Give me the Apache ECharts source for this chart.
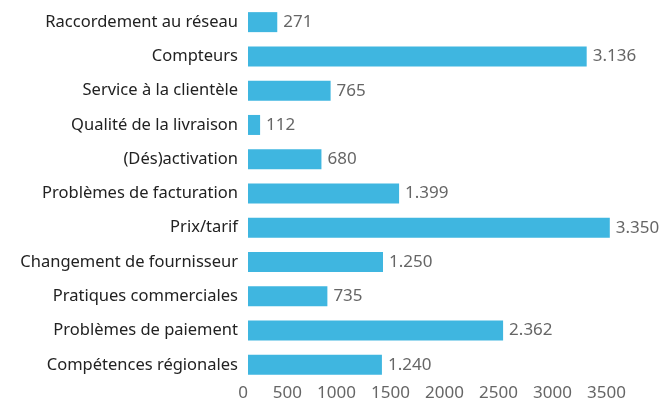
<!DOCTYPE html>
<html>
<head>
<meta charset="utf-8">
<script src="https://cdn.jsdelivr.net/npm/echarts@6/dist/echarts.min.js"></script>
<style>
  html, body { margin: 0; padding: 0; background: #fff; }
  #chart { width: 669px; height: 402px; }
</style>
</head>
<body>
<div id="chart"></div>
<script>
// categories, top to bottom
const categories = [
  'Raccordement au réseau',
  'Compteurs',
  'Service à la clientèle',
  'Qualité de la livraison',
  '(Dés)activation',
  'Problèmes de facturation',
  'Prix/tarif',
  'Changement de fournisseur',
  'Pratiques commerciales',
  'Problèmes de paiement',
  'Compétences régionales'
]
const values = [271, 3136, 765, 112, 680, 1399, 3350, 1250, 735, 2362, 1240]

const xMin = 0
const xMax = 3500
const xStep = 500

// 1240 -> "1.240"
const fmt = v => String(v).replace(/\B(?=(\d{3})+(?!\d))/g, '.')

const chart = echarts.init(document.getElementById('chart'))

const option = {
  animation: false,
  textStyle: { fontFamily: 'Noto Sans' },
  grid: {
    left: 248,
    right: 43,
    top: 5,
    bottom: 20,
    containLabel: false
  },
  xAxis: {
    type: 'value',
    min: xMin,
    max: xMax,
    interval: xStep,
    axisLine: { show: false },
    axisTick: { show: false },
    splitLine: { show: false },
    axisLabel: {
      color: '#666',
      fontSize: 17,
      align: 'right',
      margin: 3,
      fontFamily: 'Noto Sans',
      formatter: v => String(v)
    }
  },
  yAxis: {
    type: 'category',
    data: categories,
    inverse: true,
    axisLine: { show: false },
    axisTick: { show: false },
    axisLabel: {
      color: '#222',
      fontSize: 16.5,
      margin: 10,
      fontFamily: 'Noto Sans'
    }
  },
  series: [
    {
      type: 'bar',
      data: values,
      barWidth: 20,
      itemStyle: { color: '#3fb6e0' },
      label: {
        show: true,
        position: 'right',
        distance: 6,
        color: '#666',
        fontSize: 17,
        fontFamily: 'Noto Sans',
        formatter: p => fmt(p.value)
      }
    }
  ]
}

chart.setOption(option)
</script>
</body>
</html>
